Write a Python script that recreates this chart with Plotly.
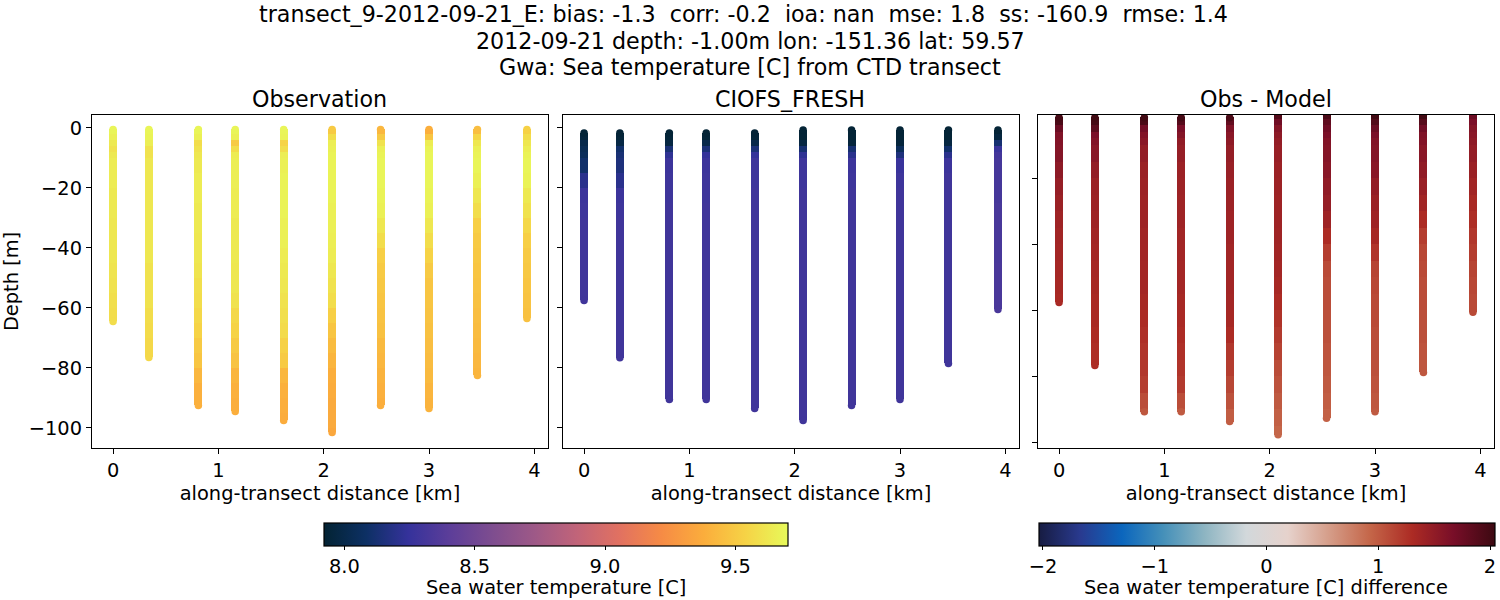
import plotly.graph_objects as go

FONT = "DejaVu Sans"

# along-transect position of each cast [km]
stations = [0, 0.34, 0.81, 1.16, 1.62, 2.08, 2.54, 3.0, 3.46, 3.93]

# depth bands the temperatures were read in [m]
band_edges = [0, -2, -4, -6, -8, -10, -15, -20, -25, -30, -35, -40, -45, -50, -55,
              -60, -65, -70, -75, -80, -85, -90, -95, -100, -105]

obs_top = [-0.5] * 10
obs_bottom = [-64.5, -76.5, -92.5, -94.5, -97.5, -101.5, -92.5, -93.5, -82.5, -63.5]
obs_temp = [
    [9.68, 9.66, 9.63, 9.6, 9.63, 9.64, 9.64, 9.63, 9.63, 9.62, 9.62, 9.62, 9.61, 9.6, 9.59, 9.58],
    [9.68, 9.67, 9.65, 9.6, 9.6, 9.62, 9.62, 9.62, 9.62, 9.62, 9.62, 9.62, 9.6, 9.6, 9.6, 9.58, 9.57, 9.56, 9.56],
    [9.68, 9.66, 9.58, 9.6, 9.62, 9.63, 9.64, 9.64, 9.63, 9.63, 9.62, 9.62, 9.61, 9.59, 9.58, 9.56, 9.54, 9.5, 9.48, 9.42, 9.39, 9.39],
    [9.68, 9.66, 9.5, 9.58, 9.64, 9.65, 9.65, 9.64, 9.64, 9.63, 9.63, 9.63, 9.62, 9.62, 9.6, 9.56, 9.54, 9.5, 9.47, 9.41, 9.39, 9.38],
    [9.68, 9.67, 9.54, 9.58, 9.65, 9.66, 9.67, 9.67, 9.67, 9.66, 9.66, 9.64, 9.63, 9.62, 9.6, 9.59, 9.57, 9.53, 9.5, 9.42, 9.39, 9.38, 9.37],
    [9.5, 9.58, 9.65, 9.66, 9.67, 9.67, 9.67, 9.67, 9.66, 9.66, 9.65, 9.64, 9.62, 9.6, 9.58, 9.52, 9.48, 9.44, 9.41, 9.38, 9.37, 9.36, 9.36, 9.35],
    [9.42, 9.5, 9.6, 9.66, 9.67, 9.68, 9.68, 9.67, 9.66, 9.62, 9.58, 9.52, 9.5, 9.49, 9.48, 9.47, 9.46, 9.43, 9.42, 9.4, 9.39, 9.38],
    [9.38, 9.48, 9.64, 9.67, 9.68, 9.68, 9.68, 9.67, 9.66, 9.62, 9.58, 9.54, 9.5, 9.48, 9.48, 9.47, 9.46, 9.45, 9.44, 9.43, 9.41, 9.4],
    [9.45, 9.55, 9.62, 9.66, 9.67, 9.68, 9.66, 9.62, 9.58, 9.52, 9.5, 9.49, 9.48, 9.47, 9.46, 9.45, 9.44, 9.43, 9.42, 9.41],
    [9.53, 9.58, 9.62, 9.65, 9.67, 9.68, 9.67, 9.63, 9.6, 9.56, 9.52, 9.5, 9.49, 9.48, 9.47, 9.46],
]

model_top = [-1.7, -1.7, -1.7, -1.7, -1.7, -0.7, -0.7, -0.7, -0.7, -0.7]
model_bottom = [-57.5, -76.6, -90.5, -90.5, -93.5, -97.5, -92.5, -90.5, -78.5, -60.5]
model_temp = [
    [7.93, 7.95, 8.0, 8.03, 8.05, 8.1, 8.2, 8.27, 8.28, 8.29, 8.29, 8.29, 8.29, 8.29, 8.29],
    [7.93, 7.94, 7.98, 8.1, 8.13, 8.15, 8.2, 8.27, 8.28, 8.29, 8.29, 8.29, 8.29, 8.29, 8.29, 8.29, 8.29, 8.29, 8.29],
    [7.93, 7.94, 7.97, 8.13, 8.22, 8.27, 8.28, 8.28, 8.29, 8.29, 8.29, 8.29, 8.29, 8.29, 8.29, 8.29, 8.29, 8.29, 8.29, 8.29, 8.29, 8.29],
    [7.93, 7.94, 8.0, 8.14, 8.24, 8.27, 8.28, 8.28, 8.29, 8.29, 8.29, 8.29, 8.29, 8.29, 8.29, 8.29, 8.29, 8.29, 8.29, 8.29, 8.29, 8.29],
    [7.93, 7.94, 8.0, 8.14, 8.24, 8.28, 8.28, 8.29, 8.29, 8.29, 8.29, 8.29, 8.29, 8.29, 8.29, 8.29, 8.29, 8.29, 8.29, 8.29, 8.29, 8.29],
    [7.93, 7.93, 7.97, 8.12, 8.22, 8.28, 8.28, 8.29, 8.29, 8.29, 8.29, 8.29, 8.29, 8.29, 8.29, 8.29, 8.29, 8.29, 8.29, 8.29, 8.29, 8.29, 8.29],
    [7.93, 7.93, 7.95, 8.12, 8.2, 8.27, 8.28, 8.29, 8.29, 8.29, 8.29, 8.29, 8.29, 8.29, 8.29, 8.29, 8.29, 8.29, 8.29, 8.29, 8.29, 8.29],
    [7.93, 7.93, 7.95, 8.05, 8.15, 8.26, 8.28, 8.29, 8.29, 8.29, 8.29, 8.29, 8.29, 8.29, 8.29, 8.29, 8.29, 8.29, 8.29, 8.29, 8.29, 8.29],
    [7.93, 7.93, 7.97, 8.1, 8.2, 8.27, 8.29, 8.29, 8.29, 8.29, 8.29, 8.29, 8.29, 8.29, 8.29, 8.29, 8.29, 8.29, 8.29],
    [7.93, 7.96, 8.12, 8.26, 8.3, 8.31, 8.31, 8.31, 8.32, 8.32, 8.32, 8.32, 8.33, 8.33, 8.33, 8.33],
]

diff_top = [-1.7, -1.7, -1.7, -1.7, -1.7, -0.7, -0.7, -0.7, -0.7, -0.7]
diff_bottom = [-57.7, -76.8, -90.8, -90.8, -93.8, -97.8, -92.8, -90.8, -78.9, -60.7]
diff_temp = [
    [1.98, 1.95, 1.75, 1.62, 1.6, 1.58, 1.52, 1.46, 1.43, 1.4, 1.38, 1.36, 1.35, 1.34, 1.32],
    [2, 1.98, 1.85, 1.65, 1.6, 1.55, 1.48, 1.43, 1.41, 1.4, 1.38, 1.36, 1.35, 1.34, 1.32, 1.32, 1.3, 1.28, 1.28],
    [2, 1.95, 1.7, 1.6, 1.55, 1.48, 1.43, 1.41, 1.4, 1.4, 1.38, 1.37, 1.36, 1.36, 1.34, 1.3, 1.27, 1.24, 1.22, 1.18, 1.08, 1.02],
    [1.98, 1.88, 1.65, 1.58, 1.5, 1.46, 1.42, 1.41, 1.4, 1.4, 1.38, 1.37, 1.36, 1.36, 1.34, 1.32, 1.3, 1.27, 1.24, 1.2, 1.08, 1.0],
    [1.95, 1.8, 1.62, 1.55, 1.52, 1.47, 1.44, 1.42, 1.41, 1.4, 1.4, 1.38, 1.37, 1.37, 1.36, 1.34, 1.3, 1.22, 1.18, 1.12, 1.05, 0.98],
    [1.9, 1.72, 1.58, 1.52, 1.48, 1.45, 1.42, 1.41, 1.4, 1.4, 1.39, 1.38, 1.36, 1.34, 1.3, 1.25, 1.2, 1.15, 1.08, 1.04, 1.0, 0.96, 0.92],
    [1.95, 1.82, 1.72, 1.65, 1.6, 1.58, 1.55, 1.5, 1.46, 1.4, 1.3, 1.18, 1.1, 1.08, 1.08, 1.06, 1.06, 1.04, 1.02, 1.0, 0.98, 0.95],
    [2, 1.9, 1.75, 1.65, 1.6, 1.58, 1.55, 1.48, 1.43, 1.4, 1.34, 1.24, 1.14, 1.12, 1.1, 1.1, 1.08, 1.08, 1.06, 1.04, 1.02, 1.0],
    [2, 1.88, 1.72, 1.62, 1.6, 1.55, 1.5, 1.44, 1.38, 1.3, 1.18, 1.12, 1.1, 1.08, 1.08, 1.06, 1.06, 1.04, 1.02],
    [1.75, 1.65, 1.58, 1.55, 1.52, 1.48, 1.43, 1.38, 1.33, 1.28, 1.22, 1.18, 1.14, 1.12, 1.1, 1.1],
]

suptitle_lines = ["transect_9-2012-09-21_E: bias: -1.3  corr: -0.2  ioa: nan  mse: 1.8  ss: -160.9  rmse: 1.4",
                  "2012-09-21 depth: -1.00m lon: -151.36 lat: 59.57",
                  "Gwa: Sea temperature [C] from CTD transect"]
panel_titles = ["Observation", "CIOFS_FRESH", "Obs - Model"]
bar_titles = ["Sea water temperature [C]", "Sea water temperature [C] difference"]


def add_casts(fig, tops, bottoms, temps, xaxis, yaxis, coloraxis):
    # each cast is a stack of coloured bands with a round cap on both ends
    xs, bases, heights, colors = [], [], [], []
    cap_x, cap_y, cap_c = [], [], []
    for x, top, bottom, temp in zip(stations, tops, bottoms, temps):
        for i, t in enumerate(temp):
            upper = min(band_edges[i], top)
            lower = max(band_edges[i + 1], bottom)
            if upper <= lower:
                continue
            xs.append(x)
            bases.append(upper)
            heights.append(lower - upper)
            colors.append(t)
        cap_x += [x, x]
        cap_y += [top, bottom]
        cap_c += [temp[0], temp[-1]]
    fig.add_trace(go.Bar(x=xs, y=heights, base=bases, width=0.076, xaxis=xaxis, yaxis=yaxis,
                         marker=dict(color=colors, coloraxis=coloraxis, line=dict(width=0))))
    fig.add_trace(go.Scatter(x=cap_x, y=cap_y, mode="markers", xaxis=xaxis, yaxis=yaxis,
                             marker=dict(size=7.5, color=cap_c, coloraxis=coloraxis, line=dict(width=0))))


def text_at(text, px, py, size=22.2):
    # px, py are the centre of the text in figure pixels
    return dict(text=text, x=px / 1500, y=1 - py / 600, xref="paper", yref="paper", xanchor="center",
                yanchor="middle", showarrow=False, font=dict(family=FONT, size=size, color="black"))


fig = go.Figure()
add_casts(fig, obs_top, obs_bottom, obs_temp, "x", "y", "coloraxis")
add_casts(fig, model_top, model_bottom, model_temp, "x2", "y2", "coloraxis")
add_casts(fig, diff_top, diff_bottom, diff_temp, "x3", "y3", "coloraxis2")

label_font = dict(family=FONT, size=19.4, color="black")
axis_style = dict(showgrid=False, zeroline=False, showline=True, mirror=True, linecolor="black", linewidth=1.2,
                  ticks="outside", ticklen=5, tickwidth=1, tickcolor="black", tickfont=label_font)
x_style = dict(axis_style, range=[-0.2, 4.13], tickvals=[0, 1, 2, 3, 4],
               title=dict(text="along-transect distance [km]", font=label_font, standoff=2))
y_vals = [0, -20, -40, -60, -80, -100]

bar_style = dict(orientation="h", lenmode="pixels", thicknessmode="pixels", thickness=22.5, xanchor="left",
                 yanchor="top", y=1 - 522.5 / 600, xpad=0, ypad=0, outlinewidth=1.2, outlinecolor="black",
                 ticks="outside", ticklen=4, tickwidth=1, tickcolor="black", tickfont=label_font)

fig.update_layout(
    width=1500, height=600, margin=dict(l=0, r=0, t=0, b=0, autoexpand=False),
    paper_bgcolor="white", plot_bgcolor="white", showlegend=False, barmode="overlay", bargap=0,
    xaxis=dict(x_style, domain=[92 / 1500, 548 / 1500], anchor="y"),
    xaxis2=dict(x_style, domain=[563 / 1500, 1019 / 1500], anchor="y2"),
    xaxis3=dict(x_style, domain=[1038 / 1500, 1494 / 1500], anchor="y3"),
    yaxis=dict(axis_style, domain=[152 / 600, 485 / 600], range=[-106.7, 4.3], tickvals=y_vals, anchor="x",
               title=dict(text="Depth [m]", font=label_font, standoff=4)),
    yaxis2=dict(axis_style, domain=[152 / 600, 485 / 600], range=[-106.7, 4.3], tickvals=y_vals, anchor="x2",
                showticklabels=False),
    yaxis3=dict(axis_style, domain=[152 / 600, 485 / 600], range=[-101.8, -0.9], tickvals=y_vals, anchor="x3",
                showticklabels=False),
    coloraxis=dict(colorscale="thermal", cmin=7.92, cmax=9.70,
                   colorbar=dict(bar_style, x=323.5 / 1500, len=464, tickvals=[8.0, 8.5, 9.0, 9.5],
                                 ticktext=["8.0", "8.5", "9.0", "9.5"])),
    coloraxis2=dict(colorscale="balance", cmin=-2.04, cmax=2.04,
                    colorbar=dict(bar_style, x=1038.5 / 1500, len=456, tickvals=[-2, -1, 0, 1, 2])),
    annotations=[
        text_at(suptitle_lines[0], 743, 14),
        text_at(suptitle_lines[1], 750, 41),
        text_at(suptitle_lines[2], 750, 67),
        text_at(panel_titles[0], 319, 99),
        text_at(panel_titles[1], 790, 99),
        text_at(panel_titles[2], 1266, 99),
        text_at(bar_titles[0], 555.5, 587, 19.4),
        text_at(bar_titles[1], 1266, 587, 19.4),
    ],
)

# the page keeps a default margin around the plot otherwise
fig.write_html("out.html", config=dict(displayModeBar=False),
               post_script="document.body.style.margin='0';document.body.style.overflow='hidden';")
